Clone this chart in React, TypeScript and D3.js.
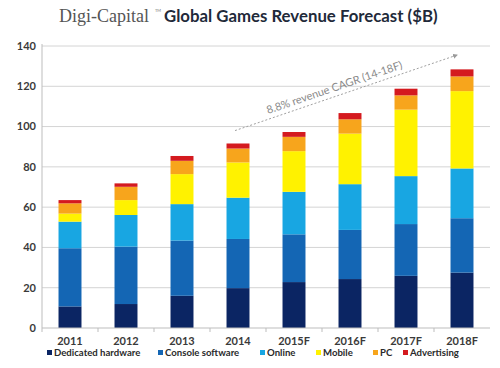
import React from "react";
import * as d3 from "d3";

// ===== data =====
const YEARS = ["2011", "2012", "2013", "2014", "2015F", "2016F", "2017F", "2018F"];
const SERIES = ["Dedicated hardware", "Console software", "Online", "Mobile", "PC", "Advertising"];
const COLORS = ["#0b2563", "#1466b4", "#18a6e2", "#fff200", "#f7a51c", "#d41a1f"];

const DEDICATED_HW = [10.7, 11.9, 16.0, 19.8, 22.8, 24.3, 25.9, 27.5];
const CONSOLE_SW = [28.9, 28.5, 27.4, 24.4, 23.7, 24.4, 25.7, 27.0];
const ONLINE = [13.2, 15.7, 18.1, 20.5, 21.1, 22.7, 23.8, 24.7];
const MOBILE = [4.0, 7.4, 14.9, 17.5, 20.2, 25.1, 33.0, 38.4];
const PC = [5.1, 6.6, 6.6, 6.9, 7.1, 7.1, 7.1, 7.3];
const ADVERTISING = [1.6, 1.7, 2.4, 2.5, 2.4, 3.1, 3.3, 3.5];

const Y_TICKS = [0, 20, 40, 60, 80, 100, 120, 140];
const CAGR_LABEL = "8.8% revenue CAGR (14-18F)";

const W = 500;
const H = 368;
const M = { left: 42, right: 10, top: 46, bottom: 40 };

export default function App() {
  const rows = YEARS.map((y, i) => ({
    year: y,
    [SERIES[0]]: DEDICATED_HW[i],
    [SERIES[1]]: CONSOLE_SW[i],
    [SERIES[2]]: ONLINE[i],
    [SERIES[3]]: MOBILE[i],
    [SERIES[4]]: PC[i],
    [SERIES[5]]: ADVERTISING[i],
  }));

  const stack = d3.stack<any>().keys(SERIES)(rows as any);

  const x = d3
    .scaleBand()
    .domain(YEARS)
    .range([M.left, W - M.right])
    .paddingInner(0.59)
    .paddingOuter(0.295);

  const y = d3.scaleLinear().domain([0, 140]).range([H - M.bottom, M.top]);

  const font = "'Lato', 'Open Sans', sans-serif";

  // arrow along the forecast tops
  const ax0 = (x("2014") as number) + x.bandwidth() / 2 - 3;
  const ay0 = y(98);
  const ax1 = (x("2018F") as number) + x.bandwidth() / 2 - 5;
  const ay1 = y(135.5);
  const angle = (Math.atan2(ay1 - ay0, ax1 - ax0) * 180) / Math.PI;
  const t = 0.46;
  const mx = ax0 + (ax1 - ax0) * t;
  const my = ay0 + (ay1 - ay0) * t;

  const legendX = [47, 158, 260, 316, 373, 403];

  return (
    <svg
      width={W}
      height={H}
      style={{ position: "absolute", left: 0, top: 0, background: "#fff" }}
    >
      <defs>
        <marker id="arr" viewBox="0 0 10 10" refX="8" refY="5" markerWidth="5" markerHeight="5" orient="auto">
          <path d="M0,0 L10,5 L0,10 z" fill="#9a9a9a" />
        </marker>
      </defs>

      {/* title */}
      <text x={59} y={22} fontSize={18} fontFamily="'Liberation Serif', 'DejaVu Serif', serif" fill="#555">
        Digi-Capital
      </text>
      <text x={155} y={12} fontSize={4} fontFamily={font} fill="#777">TM</text>
      <text x={164} y={22} fontSize={16.8} fontWeight={700} fontFamily={font} fill="#1f2a3a">
        Global Games Revenue Forecast ($B)
      </text>

      {/* grid */}
      {Y_TICKS.map((t) => (
        <g key={t}>
          {t > 0 && (
            <line x1={M.left} x2={W - M.right} y1={y(t)} y2={y(t)} stroke="#d4d4d4" strokeWidth={1} />
          )}
          <text
            x={M.left - 6}
            y={y(t)}
            dy="0.35em"
            textAnchor="end"
            fontSize={11}
            fontWeight={700}
            fontFamily={font}
            fill="#3a3a3a"
          >
            {t}
          </text>
        </g>
      ))}

      {/* bars */}
      {stack.map((s, si) =>
        s.map((d, i) => (
          <rect
            key={`${si}-${i}`}
            x={x(YEARS[i])}
            y={y(d[1])}
            width={x.bandwidth()}
            height={y(d[0]) - y(d[1])}
            fill={COLORS[si]}
          />
        ))
      )}

      {/* axes */}
      <line x1={M.left} x2={M.left} y1={M.top - 2} y2={y(0)} stroke="#bdbdbd" />
      <line x1={M.left} x2={W - M.right} y1={y(0)} y2={y(0)} stroke="#bdbdbd" />
      {YEARS.map((yr, i) => (
        <line
          key={"tk" + i}
          x1={(x(yr) as number) - (x.step() - x.bandwidth()) / 2}
          x2={(x(yr) as number) - (x.step() - x.bandwidth()) / 2}
          y1={y(0)}
          y2={y(0) + 4}
          stroke="#bdbdbd"
        />
      ))}
      {YEARS.map((yr) => (
        <text
          key={yr}
          x={(x(yr) as number) + x.bandwidth() / 2}
          y={y(0) + 17}
          textAnchor="middle"
          fontSize={11}
          fontWeight={700}
          fontFamily={font}
          fill="#3a3a3a"
        >
          {yr}
        </text>
      ))}

      {/* CAGR annotation */}
      <line
        x1={ax0}
        y1={ay0}
        x2={ax1}
        y2={ay1}
        stroke="#a0a0a0"
        strokeWidth={1}
        strokeDasharray="2,2"
        markerEnd="url(#arr)"
      />
      <text
        transform={`translate(${mx},${my}) rotate(${angle}) translate(0,-5)`}
        textAnchor="middle"
        fontSize={11}
        fontFamily={font}
        fill="#8a8a8a"
      >
        {CAGR_LABEL}
      </text>

      {/* legend */}
      {SERIES.map((s, i) => (
        <g key={s} transform={`translate(${legendX[i]},356)`}>
          <rect x={0} y={-6} width={5} height={5} fill={COLORS[i]} />
          <text x={7} y={0} fontSize={9.6} fontWeight={700} fontFamily={font} fill="#2a2a2a">
            {s}
          </text>
        </g>
      ))}
    </svg>
  );
}
